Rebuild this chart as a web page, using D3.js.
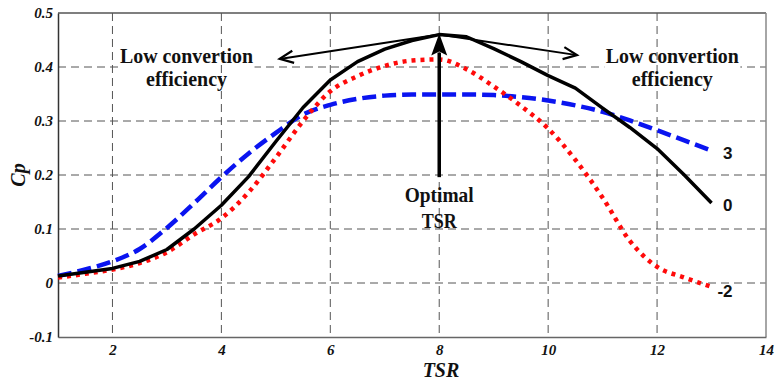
<!DOCTYPE html>
<html>
<head>
<meta charset="utf-8">
<script src="https://cdn.jsdelivr.net/npm/d3@7/dist/d3.min.js"></script>
<style>
  html, body { margin: 0; padding: 0; background: #fff; }
  svg { display: block; }
  .tick-label { font-family: "Liberation Serif", "Times New Roman", serif; font-weight: bold; font-style: italic; font-size: 15px; fill: #111; }
  .axis-title { font-family: "Liberation Serif", "Times New Roman", serif; font-weight: bold; font-style: italic; font-size: 20px; fill: #111; }
  .note { font-family: "Liberation Serif", "Times New Roman", serif; font-weight: bold; font-size: 22px; fill: #111; }
  .series-label { font-family: "Liberation Sans", Arial, sans-serif; font-weight: bold; font-size: 17px; fill: #111; }
</style>
</head>
<body>
<svg id="chart" width="776" height="381"></svg>
<script>
// Power coefficient Cp versus tip speed ratio for three pitch angles
const tsr = [1, 1.5, 2, 2.5, 3, 3.5, 4, 4.5, 5, 5.5, 6, 6.5, 7, 7.5, 8, 8.5, 9, 9.5, 10, 10.5, 11, 11.5, 12, 12.5, 13];
const cpPitch0 = [0.013, 0.02, 0.027, 0.04, 0.062, 0.1, 0.144, 0.197, 0.262, 0.325, 0.376, 0.41, 0.433, 0.449, 0.46, 0.456, 0.434, 0.41, 0.384, 0.361, 0.324, 0.288, 0.249, 0.2, 0.148];
const cpPitch3 = [0.013, 0.025, 0.04, 0.063, 0.102, 0.148, 0.196, 0.24, 0.278, 0.312, 0.33, 0.341, 0.347, 0.349, 0.349, 0.349, 0.348, 0.344, 0.338, 0.329, 0.317, 0.301, 0.283, 0.264, 0.245];
const cpPitchM2 = [0.01, 0.017, 0.025, 0.037, 0.057, 0.09, 0.12, 0.168, 0.232, 0.3, 0.355, 0.383, 0.402, 0.412, 0.414, 0.396, 0.364, 0.328, 0.286, 0.228, 0.158, 0.078, 0.03, 0.01, -0.007];
const seriesNames = ["3", "0", "-2"];

const xTicks = [2, 4, 6, 8, 10, 12, 14];
const yTicks = [-0.1, 0, 0.1, 0.2, 0.3, 0.4, 0.5];
const yTickLabels = ["-0.1", "0", "0.1", "0.2", "0.3", "0.4", "0.5"];

// Annotation anchors in data units
const peak = [8, 0.46];
const leftArrowTip = [5.07, 0.415];
const rightArrowTip = [10.53, 0.422];
const optimalArrowBase = [8, 0.196];
const noteLeftX = 3.36, noteRightX = 12.28;

const svg = d3.select("#chart");
const plot = { left: 58, right: 766, top: 13, bottom: 337 };

const x = d3.scaleLinear().domain([1, 14]).range([plot.left, plot.right]);
const y = d3.scaleLinear().domain([-0.1, 0.5]).range([plot.bottom, plot.top]);

// Horizontal grid
svg.append("g").selectAll("line").data(yTicks.filter(v => v > -0.1 && v < 0.5)).join("line")
  .attr("x1", plot.left).attr("x2", plot.right)
  .attr("y1", d => y(d)).attr("y2", d => y(d))
  .attr("stroke", "#555").attr("stroke-width", 1).attr("stroke-dasharray", "8,5");

// White backing behind the two "Low convertion efficiency" notes
[noteLeftX, noteRightX].forEach(cx => {
  svg.append("rect").attr("x", x(cx) - 68).attr("y", 46).attr("width", 136).attr("height", 44).attr("fill", "#fff");
});

// Vertical grid
svg.append("g").selectAll("line").data(xTicks.filter(v => v < 14)).join("line")
  .attr("x1", d => x(d)).attr("x2", d => x(d))
  .attr("y1", plot.top).attr("y2", plot.bottom)
  .attr("stroke", "#555").attr("stroke-width", 1).attr("stroke-dasharray", "8,5");

// Frame
svg.append("line").attr("x1", plot.left).attr("x2", plot.right).attr("y1", plot.top).attr("y2", plot.top).attr("stroke", "#555").attr("stroke-width", 1.5);
svg.append("line").attr("x1", plot.right).attr("x2", plot.right).attr("y1", plot.top).attr("y2", plot.bottom).attr("stroke", "#888").attr("stroke-width", 1.5);

const xAxis = d3.axisBottom(x).tickValues(xTicks).tickSize(0).tickFormat(d3.format("d"));
const gx = svg.append("g").attr("transform", `translate(0,${plot.bottom})`).call(xAxis);
gx.select(".domain").attr("stroke", "#666").attr("stroke-width", 1.5);
gx.selectAll("text").attr("class", "tick-label").attr("y", 18).attr("dy", null);

const yAxis = d3.axisLeft(y).tickValues(yTicks).tickSize(0).tickPadding(5).tickFormat((d, i) => yTickLabels[i]);
const gy = svg.append("g").attr("transform", `translate(${plot.left},0)`).call(yAxis);
gy.select(".domain").attr("stroke", "#333").attr("stroke-width", 1.5);
gy.selectAll("text").attr("class", "tick-label");

// Axis titles
svg.append("text").attr("class", "axis-title").attr("text-anchor", "middle")
  .attr("x", 441).attr("y", 377).text("TSR");
svg.append("text").attr("class", "axis-title").attr("text-anchor", "middle")
  .attr("transform", "translate(25,175) rotate(-90)").text("Cp");

// Curves
const smooth = d3.line().x((d, i) => x(tsr[i])).y(d => y(d)).curve(d3.curveMonotoneX);
const straight = d3.line().x((d, i) => x(tsr[i])).y(d => y(d));

svg.append("path").datum(cpPitch3).attr("d", smooth)
  .attr("fill", "none").attr("stroke", "#0a14f0").attr("stroke-width", 4.5).attr("stroke-dasharray", "14,6");
svg.append("path").datum(cpPitchM2).attr("d", smooth)
  .attr("fill", "none").attr("stroke", "#ff0a0a").attr("stroke-width", 4.5).attr("stroke-dasharray", "4,5");
svg.append("path").datum(cpPitch0).attr("d", straight)
  .attr("fill", "none").attr("stroke", "#000").attr("stroke-width", 3.5).attr("stroke-linejoin", "round");

// Series labels at line ends
const ends = [cpPitch3, cpPitch0, cpPitchM2];
const labelOffsets = [8, 8, 10];
svg.append("g").selectAll("text").data(seriesNames).join("text")
  .attr("class", "series-label").attr("text-anchor", "end")
  .attr("x", x(13) + 21)
  .attr("y", (d, i) => y(ends[i][ends[i].length - 1]) + labelOffsets[i])
  .text(d => d);

// Annotation arrows
function openArrow(from, to) {
  const [x1, y1] = [x(from[0]), y(from[1])];
  const [x2, y2] = [x(to[0]), y(to[1])];
  svg.append("line").attr("x1", x1).attr("y1", y1).attr("x2", x2).attr("y2", y2)
    .attr("stroke", "#000").attr("stroke-width", 2);
  const ang = Math.atan2(y2 - y1, x2 - x1);
  const len = 15, spread = 0.42;
  const p = a => [x2 - len * Math.cos(ang + a), y2 - len * Math.sin(ang + a)];
  const a1 = p(spread), a2 = p(-spread);
  svg.append("path").attr("d", `M${a1[0]},${a1[1]}L${x2},${y2}L${a2[0]},${a2[1]}`)
    .attr("fill", "none").attr("stroke", "#000").attr("stroke-width", 2.2).attr("stroke-linejoin", "miter");
}
openArrow(peak, leftArrowTip);
openArrow(peak, rightArrowTip);

// Vertical arrow marking the optimal TSR
const px = x(peak[0]), py = y(peak[1]);
svg.append("line").attr("x1", px).attr("x2", px).attr("y1", y(optimalArrowBase[1])).attr("y2", py + 18)
  .attr("stroke", "#000").attr("stroke-width", 3.5);
svg.append("path").attr("d", `M${px},${py - 1}L${px - 8},${py + 21}L${px},${py + 17}L${px + 8},${py + 21}Z`)
  .attr("fill", "#000");

// Notes
function note(cx, lines, widths, baselines) {
  lines.forEach((t, i) => {
    svg.append("text").attr("class", "note").attr("text-anchor", "middle")
      .attr("x", cx).attr("y", baselines[i])
      .attr("textLength", widths[i]).attr("lengthAdjust", "spacingAndGlyphs")
      .text(t);
  });
}
note(x(noteLeftX), ["Low convertion", "efficiency"], [133, 81], [63, 86]);
note(x(noteRightX), ["Low convertion", "efficiency"], [133, 81], [63, 86]);
note(px, ["Optimal", "TSR"], [69, 35], [202, 228]);
</script>
</body>
</html>
